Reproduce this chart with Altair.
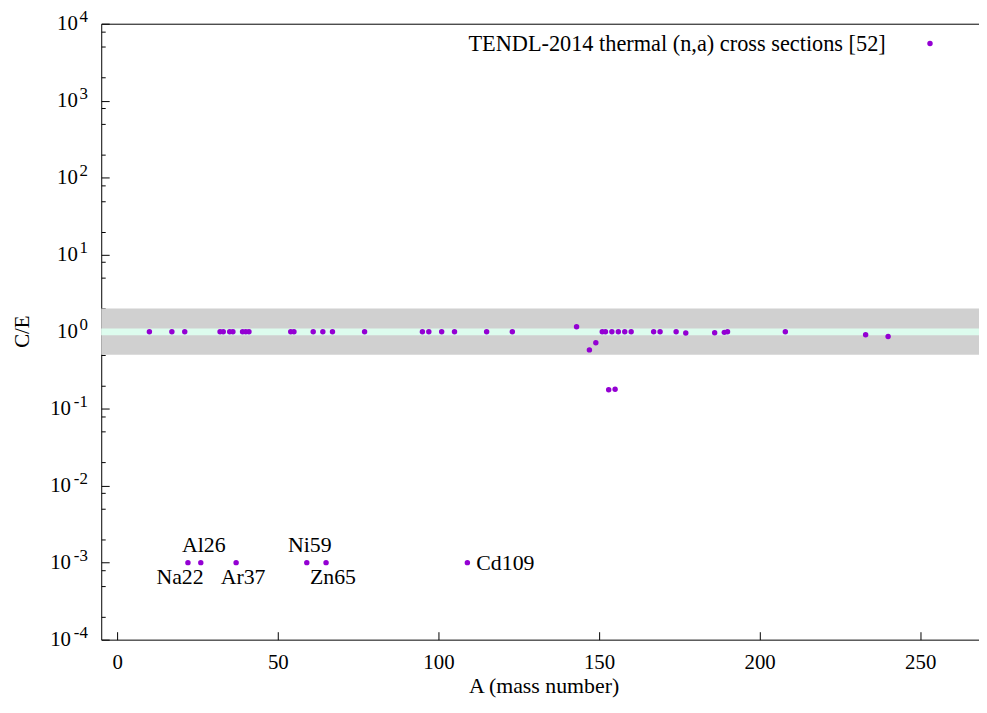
import altair as alt
import pandas as pd

FONT = "Liberation Serif"

# ---- data ----
mass_numbers = [10, 17, 21, 32, 33, 35, 36, 39, 40, 41, 54, 55, 61, 64, 67, 77,
                95, 97, 101, 105, 115, 123, 143, 147, 149, 151, 152, 153, 154, 155,
                156, 158, 160, 167, 169, 174, 177, 186, 189, 190, 208, 233, 240]
ce_values = [1.0, 1.0, 1.0, 1.0, 1.0, 1.0, 1.0, 1.0, 1.0, 1.0, 1.0, 1.0, 1.0, 1.0, 1.0, 1.0,
             1.0, 1.0, 1.0, 1.0, 1.0, 1.0, 1.16, 0.58, 0.72, 1.0, 1.0, 0.176, 1.0, 0.179,
             1.0, 1.0, 1.0, 1.0, 1.0, 1.0, 0.96, 0.97, 0.98, 1.0, 1.0, 0.91, 0.865]

low_names = ["Na22", "Al26", "Ar37", "Ni59", "Zn65", "Cd109"]
low_mass = [22, 26, 37, 59, 65, 109]
low_ce = [1e-3, 1e-3, 1e-3, 1e-3, 1e-3, 1e-3]

band_outer = [0.5, 2.0]
band_inner = [0.9, 1.1]

x_ticks = [0, 50, 100, 150, 200, 250]
y_decades = [1e-4, 1e-3, 1e-2, 1e-1, 1, 10, 100, 1000, 10000]
y_minor = [m * 10.0 ** n for n in range(-4, 4) for m in (2, 5, 8)]

legend_text = "TENDL-2014 thermal (n,a) cross sections [52]"

# label offsets (style only)
label_style = {
    "Na22": dict(dx=-8, dy=15, align="center"),
    "Al26": dict(dx=3, dy=-18, align="center"),
    "Ar37": dict(dx=7, dy=15, align="center"),
    "Ni59": dict(dx=3, dy=-18, align="center"),
    "Zn65": dict(dx=7, dy=15, align="center"),
    "Cd109": dict(dx=9, dy=0, align="left"),
}

PURPLE = "#9400d3"

# ---- tables ----
pts = pd.DataFrame({"A": mass_numbers + low_mass, "CE": ce_values + low_ce})

x_scale = alt.Scale(domain=[-5, 268.3], nice=False, zero=False)
y_scale = alt.Scale(type="log", domain=[1e-4, 1e4], nice=False)

# ---- axes ----
ax_x_labels = alt.Axis(orient="bottom", values=x_ticks, ticks=False, domain=True,
                       domainColor="black", domainWidth=1, labelFontSize=21,
                       labelBaseline="middle", labelPadding=23, labelFlush=False,
                       title="A (mass number)", titleFontSize=22, titleX=446,
                       titleY=46, titleBaseline="middle", titleAlign="center")
ax_x_ticks = alt.Axis(orient="bottom", values=x_ticks, labels=False, domain=False,
                      ticks=True, tickSize=8, offset=-8, tickColor="black", title=None)
ax_x_top = alt.Axis(orient="top", labels=False, ticks=False, domain=True,
                    domainColor="black", title=None)

ax_y_ten = alt.Axis(orient="left", values=y_decades, labelExpr="'10'", ticks=False,
                    domain=True, domainColor="black", labelFontSize=21,
                    labelAlign="right", labelBaseline="middle",
                    labelPadding={"condition": {"test": "datum.value < 1", "value": 31},
                                  "value": 24},
                    labelOverlap=False, labelFlush=False,
                    title="C/E", titleFontSize=21, titleX=-79, titleY=310,
                    titleBaseline="middle", titleAlign="center", titleAngle=270)
ax_y_exp = alt.Axis(orient="left", values=y_decades,
                    labelExpr="'' + round(log(datum.value) / LN10)",
                    ticks=False, domain=False, labelFontSize=17, labelAlign="right",
                    labelBaseline="middle", labelPadding=14, labelOffset=-7,
                    labelOverlap=False, labelFlush=False, title=None)
ax_y_major = alt.Axis(orient="left", values=y_decades, labels=False, domain=False,
                      ticks=True, tickSize=8, offset=-8, tickColor="black", title=None)
ax_y_minor = alt.Axis(orient="left", values=y_minor, labels=False, domain=False,
                      ticks=True, tickSize=4, offset=-4, tickColor="black", title=None)

# ---- layers ----
gray_band = alt.Chart(pd.DataFrame({"lo": [band_outer[0]], "hi": [band_outer[1]]})).mark_rect(
    color="#d0d0d0").encode(y=alt.Y("lo:Q", scale=y_scale, axis=None), y2="hi:Q")
green_band = alt.Chart(pd.DataFrame({"lo": [band_inner[0]], "hi": [band_inner[1]]})).mark_rect(
    color="#ddfcee").encode(y=alt.Y("lo:Q", scale=y_scale, axis=None), y2="hi:Q")

carrier1 = alt.Chart(pts).mark_point(opacity=0).encode(
    x=alt.X("A:Q", scale=x_scale, axis=ax_x_ticks),
    y=alt.Y("CE:Q", scale=y_scale, axis=ax_y_exp))
carrier2 = alt.Chart(pts).mark_point(opacity=0).encode(
    x=alt.X("A:Q", scale=x_scale, axis=ax_x_top),
    y=alt.Y("CE:Q", scale=y_scale, axis=ax_y_major))
carrier3 = alt.Chart(pts).mark_point(opacity=0).encode(
    x=alt.X("A:Q", scale=x_scale, axis=None),
    y=alt.Y("CE:Q", scale=y_scale, axis=ax_y_minor))

points = alt.Chart(pts).mark_circle(size=30, color=PURPLE, opacity=1).encode(
    x=alt.X("A:Q", scale=x_scale, axis=ax_x_labels),
    y=alt.Y("CE:Q", scale=y_scale, axis=ax_y_ten))

label_layers = []
for name, a, c in zip(low_names, low_mass, low_ce):
    st = label_style[name]
    label_layers.append(
        alt.Chart(pd.DataFrame({"A": [a], "CE": [c], "name": [name]})).mark_text(
            font=FONT, fontSize=22, color="black", baseline="middle", **st
        ).encode(x=alt.X("A:Q", scale=x_scale, axis=None),
                 y=alt.Y("CE:Q", scale=y_scale, axis=None),
                 text="name:N"))

legend_label = alt.Chart(pd.DataFrame({"t": [legend_text]})).mark_text(
    font=FONT, fontSize=22.5, color="black", align="right", baseline="middle"
).encode(x=alt.value(791), y=alt.value(20), text="t:N")
legend_dot = alt.Chart(pd.DataFrame({"t": [legend_text]})).mark_circle(
    size=30, color=PURPLE, opacity=1).encode(x=alt.value(835.6), y=alt.value(20))

chart = alt.layer(
    gray_band, green_band, carrier1, carrier2, carrier3, points,
    *label_layers, legend_label, legend_dot
).resolve_axis(x="independent", y="independent").properties(
    width=885, height=621,
    autosize=alt.AutoSizeParams(type="none"),
    padding={"left": 94, "top": 13, "right": 0, "bottom": 58},
    background="white",
).configure_view(stroke=None).configure_axis(
    grid=False, labelFont=FONT, titleFont=FONT, labelColor="black",
    titleColor="black", titleFontWeight="normal"
)

chart.save("out.html", embed_options={"renderer": "svg", "actions": False})
